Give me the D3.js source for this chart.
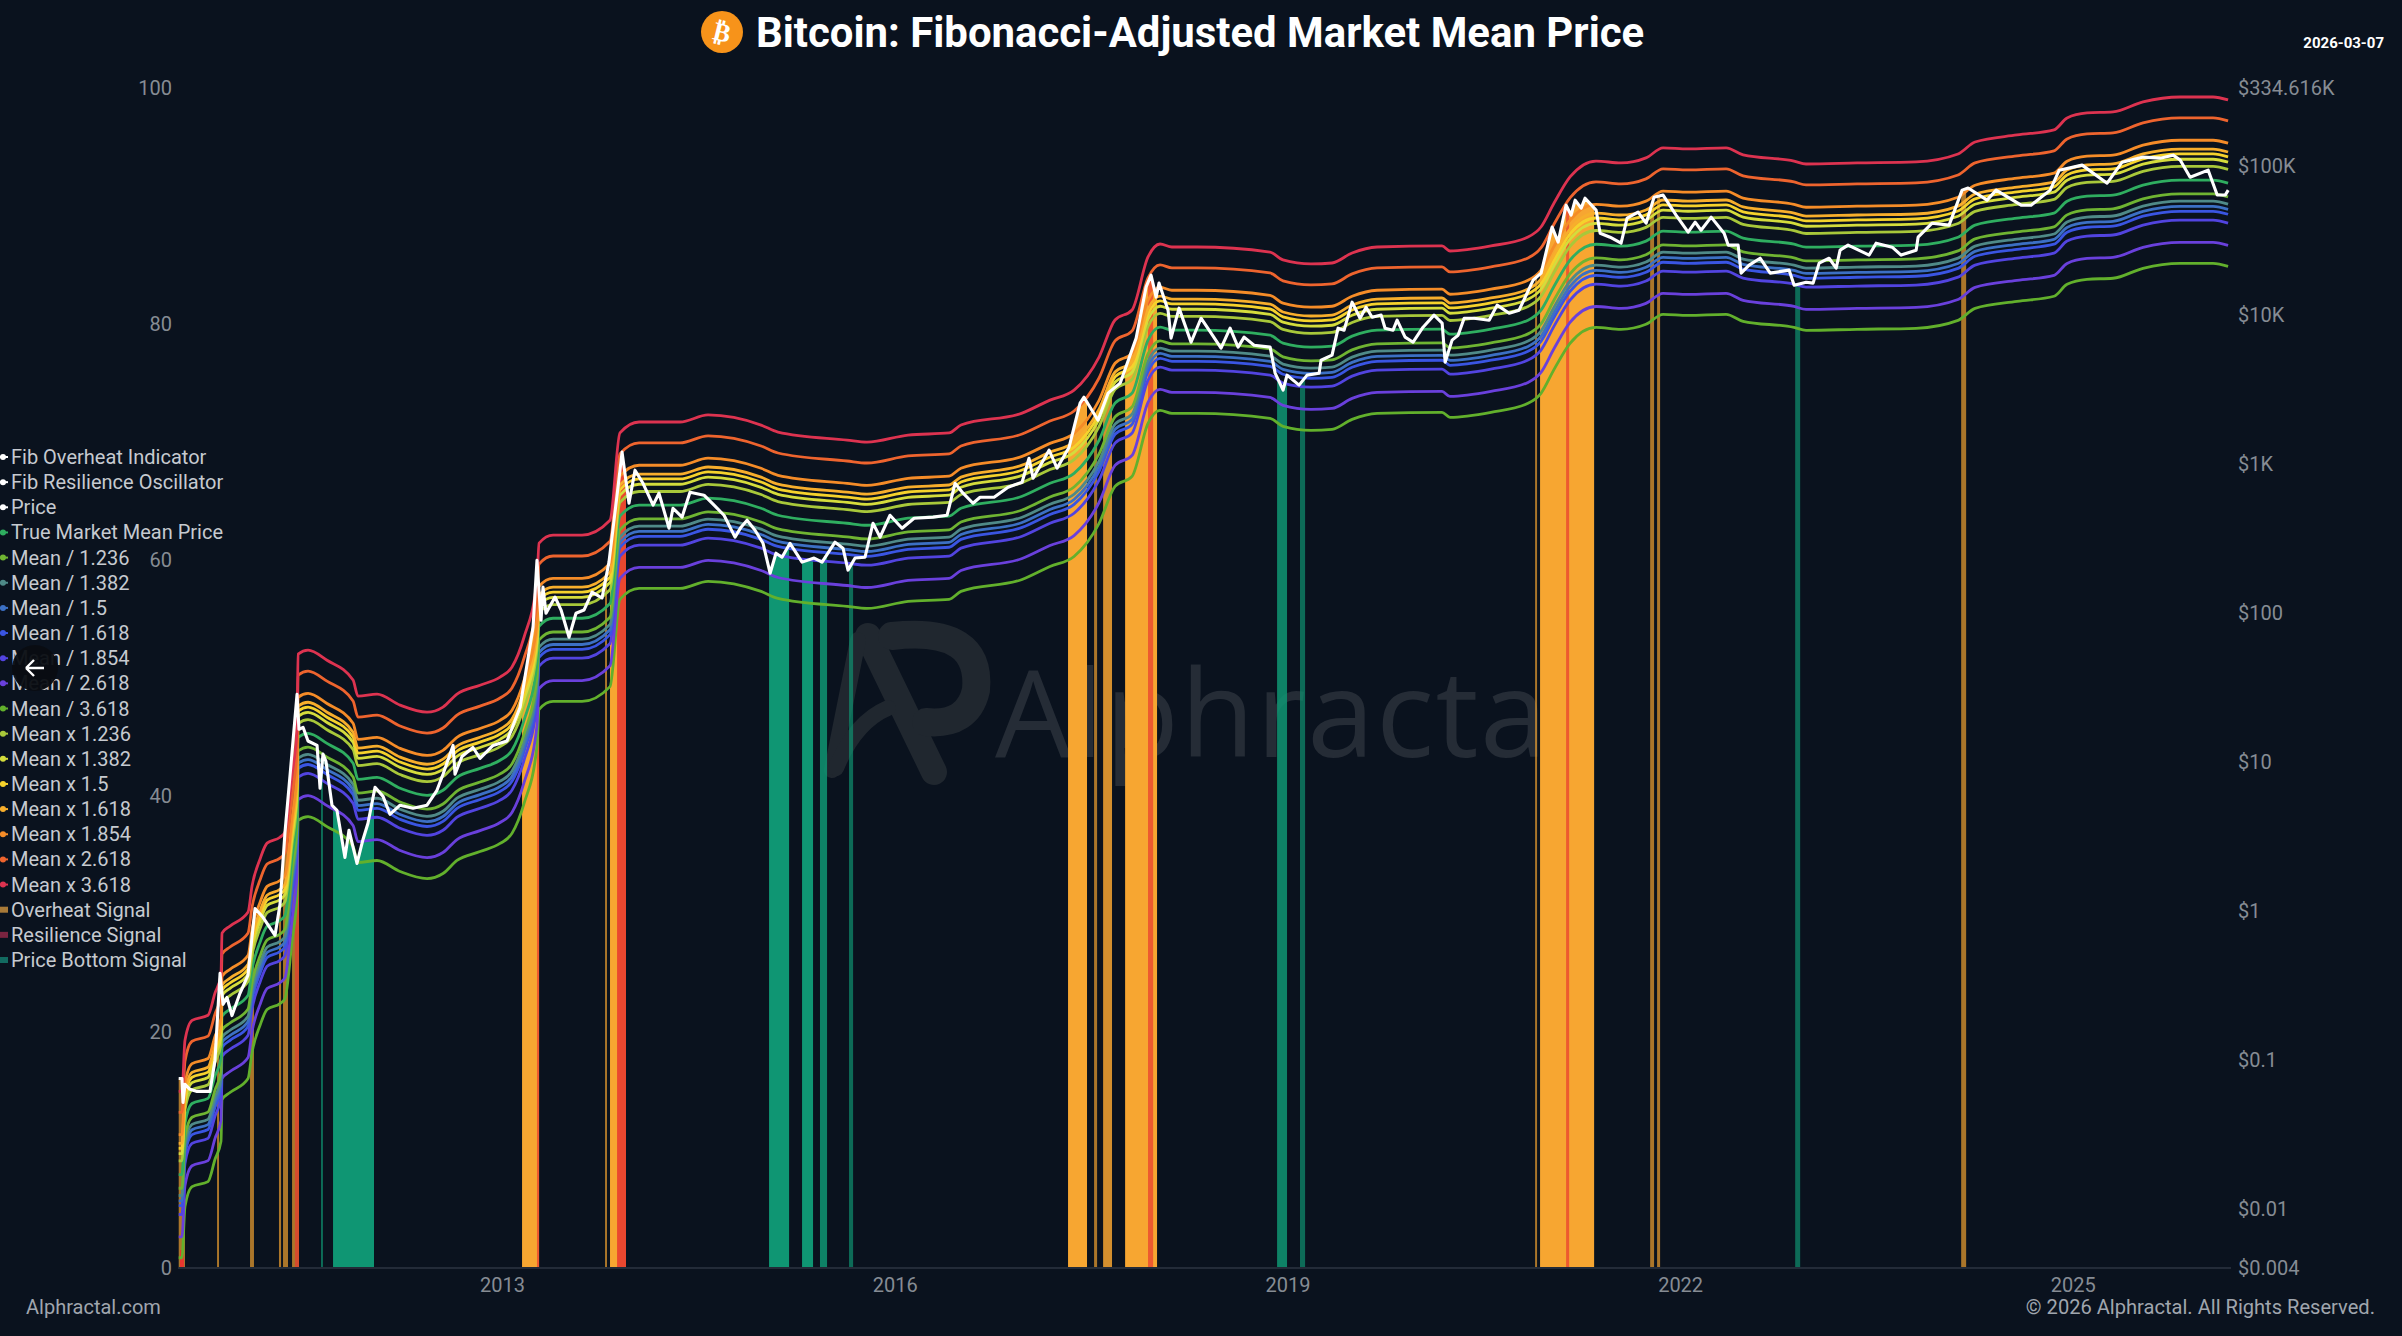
<!DOCTYPE html>
<html><head><meta charset="utf-8">
<script src="https://d3js.org/d3.v7.min.js"></script>
<style>html,body{margin:0;padding:0;background:#0a121e}svg{display:block}text{font-family:Roboto,sans-serif}</style>
</head><body><svg id="c" width="2402" height="1336"></svg>
<script>
// ---- data ----
const titleText = "Bitcoin: Fibonacci-Adjusted Market Mean Price";
const legendNames = ["Fib Overheat Indicator","Fib Resilience Oscillator","Price","True Market Mean Price","Mean / 1.236","Mean / 1.382","Mean / 1.5","Mean / 1.618","Mean / 1.854","Mean / 2.618","Mean / 3.618","Mean x 1.236","Mean x 1.382","Mean x 1.5","Mean x 1.618","Mean x 1.854","Mean x 2.618","Mean x 3.618","Overheat Signal","Resilience Signal","Price Bottom Signal"];
const leftTicks = [0,20,40,60,80,100];
const rightTicks = [334616,100000,10000,1000,100,10,1,0.1,0.01,0.004];
const rightTickLabels = ["$334.616K","$100K","$10K","$1K","$100","$10","$1","$0.1","$0.01","$0.004"];
const yearTicks = [2013,2016,2019,2022,2025];
const meanYears = [2010.53,2010.555,2010.578,2010.632,2010.754,2010.807,2010.853,2010.861,2010.922,2011.060,2011.090,2011.151,2011.205,2011.304,2011.342,2011.396,2011.434,2011.442,2011.518,2011.663,2011.862,2011.900,2012.045,2012.221,2012.427,2012.549,2012.656,2012.832,2012.985,2013.076,2013.168,2013.267,2013.283,2013.390,2013.611,2013.825,2013.901,2014.047,2014.360,2014.574,2014.979,2015.108,2015.636,2015.788,2016.102,2016.415,2016.506,2016.973,2017.186,2017.370,2017.561,2017.683,2017.813,2017.935,2018.027,2018.118,2018.309,2018.867,2018.966,2019.180,2019.341,2019.494,2019.685,2020.181,2020.242,2020.555,2020.838,2020.937,2021.037,2021.159,2021.358,2021.548,2021.739,2021.870,2022.060,2022.351,2022.481,2022.870,2022.962,2023.352,2023.802,2024.123,2024.253,2024.574,2024.856,2024.956,2025.108,2025.307,2025.536,2025.819,2026.071,2026.186];
const meanPrice = [0.0167,0.0167,0.0368,0.0501,0.0542,0.0762,0.101,0.193,0.215,0.267,0.398,0.605,0.775,0.849,0.918,2.25,4.52,14.4,15.3,13.1,9.64,7.52,7.76,6.55,5.87,6.35,7.76,8.91,10.1,11.8,18.7,45.2,80.2,90.7,90.7,114,440,521,521,581,497,446,394,382,426,440,497,598,731,853,1422,2523,2944,6683,8166,7798,7798,7211,6383,5998,6087,7106,7798,7925,7328,7925,9100,10620,15380,23010,29440,28580,30900,36060,35480,36060,32360,29440,28120,28580,29040,32810,39540,44060,47640,57280,61940,62950,73450,79250,79250,75700];
const bandNames = ["Mean / 3.618","Mean / 2.618","Mean / 1.854","Mean / 1.618","Mean / 1.5","Mean / 1.382","Mean / 1.236","True Market Mean Price","Mean x 1.236","Mean x 1.382","Mean x 1.5","Mean x 1.618","Mean x 1.854","Mean x 2.618","Mean x 3.618"];
const bandFactors = [1/3.618,1/2.618,1/1.854,1/1.618,1/1.5,1/1.382,1/1.236,1,1.236,1.382,1.5,1.618,1.854,2.618,3.618];
const priceYears = [2010.53,2010.555,2010.563,2010.578,2010.616,2010.670,2010.769,2010.807,2010.846,2010.869,2010.899,2010.937,2010.998,2011.059,2011.113,2011.174,2011.266,2011.304,2011.342,2011.380,2011.434,2011.449,2011.480,2011.518,2011.587,2011.610,2011.632,2011.655,2011.701,2011.739,2011.800,2011.831,2011.892,2011.938,2011.976,2012.030,2012.091,2012.144,2012.221,2012.320,2012.427,2012.503,2012.549,2012.626,2012.641,2012.694,2012.778,2012.832,2012.931,2013.038,2013.138,2013.237,2013.267,2013.298,2013.313,2013.336,2013.405,2013.451,2013.512,2013.565,2013.626,2013.688,2013.764,2013.817,2013.886,2013.917,2013.970,2014.016,2014.077,2014.154,2014.199,2014.276,2014.306,2014.375,2014.436,2014.543,2014.620,2014.696,2014.780,2014.826,2014.872,2014.933,2014.994,2015.048,2015.093,2015.139,2015.200,2015.292,2015.384,2015.445,2015.544,2015.605,2015.643,2015.697,2015.773,2015.834,2015.888,2015.964,2016.056,2016.148,2016.293,2016.400,2016.461,2016.522,2016.598,2016.652,2016.759,2016.866,2016.973,2017.026,2017.057,2017.179,2017.240,2017.332,2017.416,2017.446,2017.553,2017.630,2017.722,2017.844,2017.920,2017.958,2017.997,2018.019,2018.088,2018.111,2018.172,2018.264,2018.340,2018.417,2018.493,2018.562,2018.623,2018.669,2018.745,2018.868,2018.906,2018.967,2018.997,2019.089,2019.150,2019.242,2019.257,2019.341,2019.387,2019.433,2019.494,2019.555,2019.601,2019.647,2019.716,2019.746,2019.807,2019.838,2019.899,2019.960,2020.036,2020.120,2020.182,2020.205,2020.258,2020.304,2020.350,2020.426,2020.541,2020.602,2020.694,2020.770,2020.877,2020.938,2021.022,2021.068,2021.129,2021.167,2021.198,2021.244,2021.274,2021.358,2021.389,2021.465,2021.549,2021.595,2021.679,2021.740,2021.801,2021.870,2021.969,2022.061,2022.115,2022.160,2022.237,2022.336,2022.367,2022.443,2022.466,2022.527,2022.611,2022.688,2022.833,2022.871,2022.963,2023.016,2023.062,2023.138,2023.192,2023.222,2023.283,2023.444,2023.497,2023.620,2023.688,2023.803,2023.818,2023.925,2024.055,2024.154,2024.200,2024.345,2024.414,2024.605,2024.681,2024.827,2024.896,2025.071,2025.262,2025.377,2025.537,2025.667,2025.766,2025.820,2025.896,2026.034,2026.103,2026.164,2026.187];
const priceValues = [0.0738,0.0738,0.0509,0.0673,0.0624,0.0604,0.0604,0.0975,0.375,0.232,0.258,0.195,0.275,0.363,1.02,0.891,0.675,1.09,3.31,7.89,28.0,16.3,16.8,13.6,12.7,6.55,11.1,9.93,5.04,4.66,2.25,3.42,2.05,2.97,3.81,6.65,5.78,4.38,5.04,4.81,5.04,6.35,8.13,12.7,8.13,10.7,12.3,10.4,12.7,13.6,22.9,78.9,222,87.9,147,98,126,103,67.6,98,103,136,124,216,687,1183,537,895,731,521,627,365,497,433,637,608,521,446,318,371,413,354,289,182,248,233,289,216,230,216,294,268,191,230,233,394,318,446,365,426,433,446,731,627,537,589,589,687,743,1076,791,1219,923,1276,2523,2767,1936,2944,3436,6887,15170,18240,13000,16140,10620,6887,10960,6471,9376,7447,5902,8040,5998,6998,6180,5998,4009,3083,3890,3334,3890,4009,4898,5297,8040,7798,12020,9376,11120,9530,9840,8040,7798,9100,6998,6471,8166,9840,8690,4753,6683,7211,9376,9376,9100,11480,10140,10620,16900,18830,38370,30410,53830,46130,58210,51400,59980,49890,34910,32810,29920,44060,48310,40740,60950,62950,46130,35480,41400,36560,44770,34910,29040,29040,18830,21300,23710,18830,19720,15630,16370,16140,21980,23710,20340,26850,29040,24890,29920,28120,24890,26850,32810,40740,39540,67920,70150,58210,67920,53830,53830,67920,92500,100000,75700,104700,113200,111400,116700,108100,83000,92500,62950,62950,67920];
const overheatSpans = [[2010.525,2010.578],[2010.823,2010.838],[2011.075,2011.105],[2011.296,2011.312],[2011.327,2011.365],[2011.396,2011.449],[2013.153,2013.283],[2013.787,2013.802],[2013.825,2013.947],[2017.324,2017.469],[2017.523,2017.546],[2017.592,2017.660],[2017.760,2018.004],[2020.892,2020.907],[2020.930,2021.343],[2021.771,2021.801],[2021.824,2021.847],[2024.147,2024.185]];
const resilienceSpans = [[2011.418,2011.449],[2013.267,2013.283],[2013.879,2013.947],[2017.935,2017.974],[2021.129,2021.152]];
const firstResilienceSpan = [2010.54,2010.57];
const firstResilienceLevel = 0.0052;
const bottomSpans = [[2011.617,2011.632],[2011.709,2012.022],[2015.040,2015.193],[2015.292,2015.376],[2015.429,2015.483],[2015.651,2015.682],[2018.921,2018.997],[2019.096,2019.135],[2022.879,2022.917]];

// ---- styles ----
const bandColors = ["#62b02c","#6a40dc","#5244e0","#3a55e2","#3c70c4","#4f8a88","#6fb432","#2fae60","#a8c83a","#d4dc3c","#f5d22c","#f7ae2c","#f58c28","#ee642e","#dd3350"];
const legendColors = ["#fff","#fff","#fff","#2fae60","#6fb432","#4f8a88","#3c70c4","#3a55e2","#5244e0","#6a40dc","#62b02c","#a8c83a","#d4dc3c","#f5d22c","#f7ae2c","#f58c28","#ee642e","#dd3350","#a87a38","#7a2440","#126a60"];
const orange="#f7a631", red="#e8362f", green="#0f9673";

const svg=d3.select("#c");
svg.append("rect").attr("width",2402).attr("height",1336).attr("fill","#0a121e");
const x=d3.scaleLinear().domain([2010.53,2026.19]).range([178.7,2228.6]);
const y=d3.scaleLog().domain([0.004,334616]).range([1267,87]);
const yL=d3.scaleLinear().domain([0,100]).range([1267,87]);

// watermark
const wm=svg.append("g").attr("fill","none").attr("stroke","#20272f").attr("stroke-linecap","round");
wm.append("path").attr("d","M868,636 L934,772").attr("stroke-width",26);
wm.append("path").attr("d","M858,640 L832,770").attr("stroke-width",16);
wm.append("path").attr("d","M836,768 Q855,722 888,708").attr("stroke-width",16);
wm.append("path").attr("d","M892,636 Q982,626 976,690 Q968,726 926,722").attr("stroke-width",28);
svg.append("text").attr("x",995).attr("y",757).attr("fill","#252c36").attr("font-size",121).style("font-family","'Open Sans'").style("font-weight",400).style("letter-spacing","1.5px").text("Alphractal");

// signal spans, cut at the price like the original columns
const pricePts=priceYears.map((d,i)=>[d,priceValues[i]]);
const area=d3.area().x(d=>x(d[0])).y0(1267).y1(d=>y(d[1]));
svg.append("clipPath").attr("id","under").append("path").attr("d",area(pricePts));
const bars=svg.append("g").attr("clip-path","url(#under)");
function spans(data,color){
  bars.selectAll(null).data(data).enter().append("rect")
    .attr("x",d=>x(d[0])).attr("width",d=>Math.max(1,x(d[1])-x(d[0])))
    .attr("y",87).attr("height",1180).attr("fill",color)
    .attr("opacity",d=>(x(d[1])-x(d[0]))<7?0.68:(x(d[1])-x(d[0]))<10?0.85:1);
}
spans(overheatSpans,orange); spans(bottomSpans,green); spans(resilienceSpans,red);
svg.append("rect").attr("x",x(firstResilienceSpan[0])).attr("width",x(firstResilienceSpan[1])-x(firstResilienceSpan[0]))
  .attr("y",y(firstResilienceLevel)).attr("height",1267-y(firstResilienceLevel)).attr("fill",red);

// axis line
svg.append("line").attr("x1",178).attr("x2",2231).attr("y1",1268).attr("y2",1268).attr("stroke","#2c3542").attr("stroke-width",1.5);

// bands
const line=d3.line().x(d=>x(d[0])).y(d=>y(d[1])).curve(d3.curveMonotoneX);
bandFactors.forEach((f,i)=>{
  svg.append("path").attr("class","band").attr("data-name",bandNames[i])
    .attr("d",line(meanYears.map((t,j)=>[t,meanPrice[j]*f])))
    .attr("fill","none").attr("stroke",bandColors[i]).attr("stroke-width",2.8).attr("stroke-linejoin","round");
});
const priceLine=d3.line().x(d=>x(d[0])).y(d=>y(d[1]));
svg.append("path").attr("d",priceLine(pricePts)).attr("fill","none").attr("stroke","#fff").attr("stroke-width",3.1).attr("stroke-linejoin","round");

// axes
const lAx=svg.append("g").attr("transform","translate(172,1)").call(d3.axisLeft(yL).tickValues(leftTicks).tickSize(0).tickPadding(0));
lAx.select(".domain").remove();
lAx.selectAll("text").attr("fill","#868c94").attr("font-size",20).style("font-family","Roboto");
const rAx=svg.append("g").attr("transform","translate(2238,1)").call(d3.axisRight(y).tickValues(rightTicks).tickFormat((d,i)=>rightTickLabels[i]).tickSize(0).tickPadding(0));
rAx.select(".domain").remove();
rAx.selectAll("text").attr("fill","#868c94").attr("font-size",20).style("font-family","Roboto");
const xAx=svg.append("g").attr("transform","translate(0,1278)").call(d3.axisBottom(x).tickValues(yearTicks).tickFormat(d3.format("d")).tickSize(0).tickPadding(0));
xAx.select(".domain").remove();
xAx.selectAll("text").attr("fill","#868c94").attr("font-size",20).style("font-family","Roboto");

// legend
const lg=svg.append("g").selectAll("g").data(legendNames).enter().append("g").attr("transform",(d,i)=>`translate(0,${457+i*25.15})`);
lg.append("line").attr("x1",0).attr("x2",8).attr("stroke",(d,i)=>legendColors[i]).attr("stroke-width",(d,i)=>i>=18?6:2);
lg.filter((d,i)=>i<18).append("circle").attr("cx",3).attr("r",3).attr("fill",(d,i)=>legendColors[i]);
lg.append("text").attr("x",11).attr("dy","0.35em").attr("fill","#c6cad0").attr("font-size",20).text(d=>d);

// back arrow
const ar=svg.append("g").attr("transform","translate(35,668)");
ar.append("circle").attr("r",23).attr("fill","#0a0d12").attr("opacity",.95);
ar.append("path").attr("d","M-9,0 H9 M-9,0 L-1,-8 M-9,0 L-1,8").attr("stroke","#fff").attr("stroke-width",2.4).attr("fill","none");

// title
svg.append("circle").attr("cx",722).attr("cy",32).attr("r",21).attr("fill","#f7931a");
svg.append("text").attr("x",722).attr("y",41).attr("text-anchor","middle").attr("transform","rotate(14 722 32)").attr("fill","#fff").attr("font-size",26).style("font-family","'DejaVu Sans'").style("font-weight",700).text("₿");
svg.append("text").attr("x",756).attr("y",47).attr("fill","#fff").attr("font-size",41.9).attr("font-weight",700).text(titleText);
svg.append("text").attr("x",2384).attr("y",48).attr("text-anchor","end").attr("fill","#fff").attr("font-size",15).attr("font-weight",700).text("2026-03-07");
svg.append("text").attr("x",26).attr("y",1314).attr("fill","#a0a6ae").attr("font-size",20).text("Alphractal.com");
svg.append("text").attr("x",2375).attr("y",1314).attr("text-anchor","end").attr("fill","#a0a6ae").attr("font-size",20.1).text("© 2026 Alphractal. All Rights Reserved.");
</script></body></html>
